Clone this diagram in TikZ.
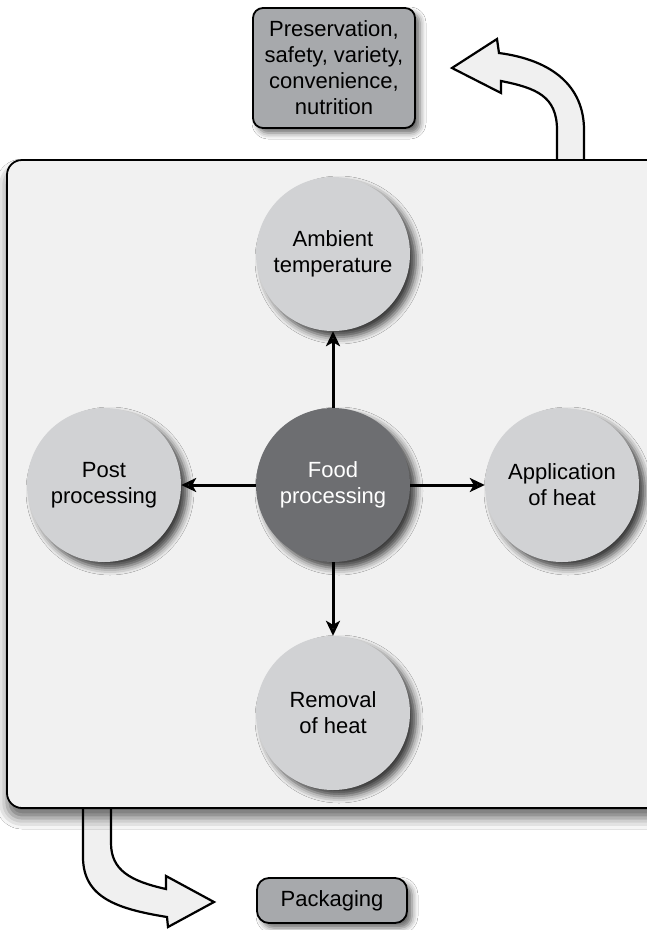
\documentclass[tikz,border=0pt]{standalone}
\usepackage{fontspec}
\setmainfont{Liberation Sans}
\usetikzlibrary{arrows.meta,shadows.blur}

\definecolor{panelfill}{HTML}{F1F1F1}
\definecolor{lightdisc}{HTML}{D1D2D4}
\definecolor{darkdisc}{HTML}{6D6E71}
\definecolor{tagfill}{HTML}{A7A9AC}
\definecolor{bendfill}{HTML}{F0F0F0}

\tikzset{
  lbl/.style={font=\fontsize{22}{26}\selectfont, align=center},
  disc/.style={lbl, circle, minimum size=154pt, inner sep=0pt, fill=lightdisc,
    blur shadow={shadow xshift=6pt, shadow yshift=-6pt, shadow blur radius=7pt, shadow opacity=75}},
  hub/.style={disc, fill=darkdisc, text=white},
  tag/.style={lbl, draw=black, line width=1.8pt, fill=tagfill, rounded corners=10pt, inner sep=0pt,
    blur shadow={shadow xshift=5pt, shadow yshift=-5pt, shadow blur radius=6pt, shadow opacity=60}},
  conn/.style={line width=3pt, -{Stealth[length=15pt,width=14pt,inset=4pt]}},
  bigarrow/.style={draw=black, line width=2.2pt, fill=bendfill, line join=miter},
}

\begin{document}
\begin{tikzpicture}[x=1pt,y=-1pt]
  \useasboundingbox (0,0) rectangle (647,930);
  \fill[white] (0,0) rectangle (647,930);

  % curved block arrow leaving the panel towards the goals
  \draw[bigarrow] (557,161) -- (557,130)
      .. controls (557,96) and (536,88) .. (501,81)
      -- (501,93) -- (452,68) -- (497,39) -- (499,53)
      .. controls (552,60) and (584,86) .. (584,130) -- (584,161);

  % curved block arrow leaving the panel towards packaging
  \draw[bigarrow] (83,807) -- (83,857)
      .. controls (83,898) and (118,909) .. (167,917)
      -- (168,927) -- (214,902) -- (166,876) -- (166,889)
      .. controls (130,881) and (111,870) .. (111,843) -- (111,807);

  % main panel
  \draw[line width=1.8pt, fill=panelfill, rounded corners=15pt,
        blur shadow={shadow xshift=0pt, shadow yshift=-10pt, shadow blur radius=11pt, shadow opacity=60}]
      (7,160) rectangle (670,808);

  % processing discs
  \node[hub]  (food) at (333,485) {Food\\processing};
  \node[disc] (amb)  at (333,254) {Ambient\\temperature};
  \node[disc] (app)  at (562,485) {Application\\of heat};
  \node[disc] (post) at (104,485) {Post\\processing};
  \node[disc] (rem)  at (333,713) {Removal\\of heat};

  \draw[conn] (food) -- (amb);
  \draw[conn] (food) -- (app);
  \draw[conn] (food) -- (post);
  \draw[conn] (food) -- (rem);

  % outcome labels
  \node[tag, minimum width=162pt, minimum height=120pt] (goals) at (334,68)
      {Preservation,\\safety, variety,\\convenience,\\nutrition};
  \node[tag, minimum width=150pt, minimum height=45pt, rounded corners=12pt] (pack) at (332,900.5)
      {Packaging};
\end{tikzpicture}
\end{document}
